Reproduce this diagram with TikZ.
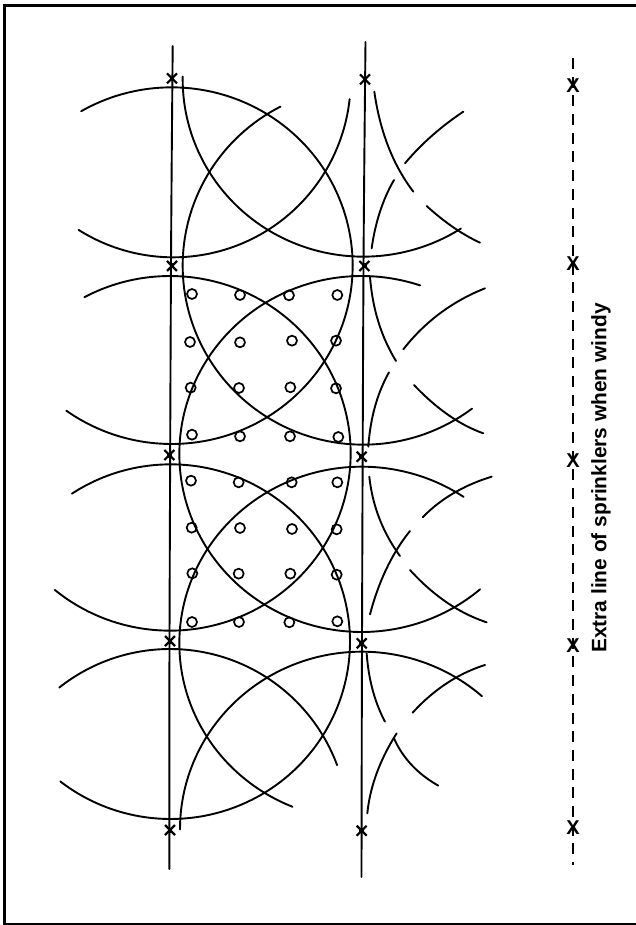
\documentclass[tikz,border=0pt]{standalone}
\usepackage{fontspec}
\setmainfont{Liberation Sans}
\tikzset{
  arcline/.style={line width=1.9pt,line cap=round,line join=round,black},
  mainline/.style={line width=1.9pt,line cap=round,black},
  hole/.style={circle,draw=black,line width=1.7pt,minimum size=10pt,inner sep=0pt,fill=none},
  crossmark/.pic={\draw[line width=2.2pt,line cap=butt] (-5pt,-5pt)--(5pt,5pt) (5pt,-5pt)--(-5pt,5pt);
                  \fill (-2.2pt,-2.5pt) rectangle (2.2pt,2.5pt);},
  extramark/.style={font=\bfseries\fontsize{20}{20}\selectfont,inner sep=0pt},
  zoomA/.style={xshift=40pt,yshift=-30pt,x=0.33333pt,y=-0.33333pt},
  zoomB/.style={xshift=40pt,yshift=-440pt,x=0.33333pt,y=-0.33333pt},
}
% centre x, centre y, radius x, radius y, first angle, last angle (angles run clockwise on the page)
\newcommand{\sprayarc}[6]{\draw[arcline] plot[domain=#5:#6,samples=90,smooth] ({#1+#3*cos(\x)},{#2+#4*sin(\x)});}
% start, control, end of a short spray fragment
\newcommand{\frag}[6]{\draw[arcline] plot[domain=0:1,samples=25,smooth] ({(1-\x)*(1-\x)*#1+2*(1-\x)*\x*#3+\x*\x*#5},{(1-\x)*(1-\x)*#2+2*(1-\x)*\x*#4+\x*\x*#6});}
\begin{document}
\begin{tikzpicture}[x=1pt,y=-1pt]
\useasboundingbox (0,0) rectangle (636,925);
\draw[line width=2.5pt] (4.7,5.3) rectangle (638,924.3);

% supply lines
\coordinate (lt) at (172.7,46); \coordinate (lb) at (169.3,869);
\coordinate (rt) at (365.5,42); \coordinate (rb) at (361.5,877);
\draw[mainline] plot[smooth] coordinates {(lt) (171,263) (169.5,640) (lb)};
\draw[mainline] plot[smooth] coordinates {(rt) (363.5,266) (362,640) (rb)};

\begin{scope}[zoomA]
\sprayarc{395}{707}{543}{535}{-120}{125.6}
\sprayarc{400}{150}{532}{532}{6.2}{122.3}
\sprayarc{970}{148}{542}{532}{57.3}{180.9}
\sprayarc{970}{707}{542}{537}{-307}{-117.3}
\frag{1003}{185}{1028.5}{365}{1120}{485}
\frag{1160}{528}{1240}{601}{1320}{638}
\frag{1095}{400}{1167.5}{313.5}{1270}{245}
\frag{995}{655}{1011.5}{537.5}{1062}{450}
\frag{990}{740}{1001}{883.5}{1068}{993}
\frag{1090}{958}{1187.5}{833.5}{1335}{775}
\frag{1122}{1065}{1224}{1172.5}{1330}{1210}
\frag{1047}{1027}{994}{1121.5}{985}{1250}
\node[hole] (a11) at (456,792) {}; \node[hole] (a12) at (600,795) {}; \node[hole] (a13) at (747,796) {}; \node[hole] (a14) at (892,795) {};
\node[hole] (a21) at (450,936) {}; \node[hole] (a22) at (600,937) {}; \node[hole] (a23) at (756,932) {}; \node[hole] (a24) at (888,932) {};
\node[hole] (a31) at (452,1073) {}; \node[hole] (a32) at (597,1074) {}; \node[hole] (a33) at (751,1072) {}; \node[hole] (a34) at (888,1075) {};
\node[hole] (a41) at (456,1214) {}; \node[hole] (a42) at (600,1219) {}; \node[hole] (a43) at (750,1219) {}; \node[hole] (a44) at (895,1221) {};
\pic at (396,145) {crossmark}; \pic at (396,708) {crossmark};
\pic at (975,148) {crossmark}; \pic at (973,708) {crossmark};
\end{scope}

\begin{scope}[zoomB]
\sprayarc{390}{40}{542}{532}{-118.3}{129.6}
\sprayarc{965}{42}{547}{534}{-310.5}{-71.3}
\sprayarc{392}{605}{538}{532}{-123.4}{128}
\sprayarc{965}{610}{547}{530}{-247.7}{-56}
\sprayarc{390}{1162}{535}{535}{-128.4}{-20.4}
\sprayarc{965}{1168}{545}{533}{-180}{-48.5}
\frag{1355}{110}{1228.5}{149}{1148}{232}
\frag{988}{110}{1002}{241}{1080}{348}
\frag{1110}{273}{1030}{372}{990}{523}
\frag{1110}{390}{1215}{505.5}{1340}{547}
\frag{980}{640}{988.5}{757.5}{1035}{845}
\frag{1335}{675}{1213.5}{713.5}{1118}{818}
\frag{1070}{880}{994}{1000}{982}{1120}
\frag{1062}{895}{1101.5}{984}{1195}{1037}
\node[hole] (b11) at (453,122) {}; \node[hole] (b12) at (596,127) {}; \node[hole] (b13) at (755,127) {}; \node[hole] (b14) at (892,127) {};
\node[hole] (b21) at (455,263) {}; \node[hole] (b22) at (600,264) {}; \node[hole] (b23) at (756,267) {}; \node[hole] (b24) at (890,268) {};
\node[hole] (b31) at (457,400) {}; \node[hole] (b32) at (596,401) {}; \node[hole] (b33) at (751,401) {}; \node[hole] (b34) at (890,404) {};
\node[hole] (b41) at (456,546) {}; \node[hole] (b42) at (597,546) {}; \node[hole] (b43) at (748,547) {}; \node[hole] (b44) at (892,544) {};
\pic at (388,45) {crossmark}; \pic at (390,603) {crossmark}; \pic at (390,1170) {crossmark};
\pic at (965,50) {crossmark}; \pic at (965,610) {crossmark}; \pic at (965,1172) {crossmark};
\end{scope}

% extra line
\coordinate (et) at (573,58); \coordinate (eb) at (573,865);
\draw[line width=2.2pt,dash pattern=on 11pt off 7.7pt] (et) -- (eb);
\node[extramark] (x1) at (573,86) {X};
\node[extramark] (x2) at (573,264) {X};
\node[extramark] (x3) at (573,461) {X};
\node[extramark] (x4) at (573,646) {X};
\node[extramark] (x5) at (573,828) {X};
\node[rotate=90,font=\bfseries\fontsize{20.9}{22}\selectfont,inner sep=0pt] (label) at (601,478) {Extra line of sprinklers when windy};
\end{tikzpicture}
\end{document}
